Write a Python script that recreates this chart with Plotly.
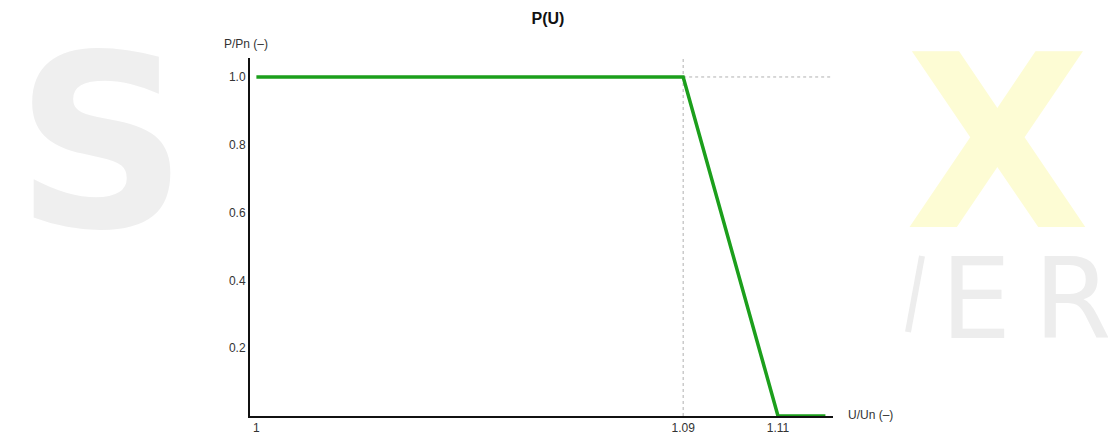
import plotly.graph_objects as go

# ---- data ----
u_values = [1.0, 1.09, 1.11, 1.12]          # U/Un
p_values = [1.0, 1.0, 0.0, 0.0]             # P/Pn
x_tick_vals = [1.0, 1.09, 1.11]
x_tick_text = ["1", "1.09", "1.11"]
y_tick_vals = [0.2, 0.4, 0.6, 0.8, 1.0]
y_tick_text = ["0.2", "0.4", "0.6", "0.8", "1.0"]
knee_u = 1.09
knee_p = 1.0

W, H = 1108, 432
ML, MR, MT, MB = 250, 275, 58, 16
PW, PH = W - ML - MR, H - MT - MB


def px(x):
    return (x - ML) / PW


def py(y):
    return (H - MB - y) / PH


fig = go.Figure()
fig.add_trace(go.Scatter(
    x=u_values, y=p_values, mode="lines",
    line=dict(color="#1c9f1c", width=3.5),
    hoverinfo="skip", showlegend=False, cliponaxis=False,
))

font = "Liberation Sans, Arial, sans-serif"
wm_font = "DejaVu Sans, sans-serif"

annotations = [
    # watermark (logo letters)
    dict(text="<b>S</b>", x=px(101), y=py(2), xref="paper", yref="paper",
         xanchor="center", yanchor="top", showarrow=False,
         font=dict(family=wm_font, size=240, color="#efefef")),
    dict(text=("<span style='font-size:240px;color:#fdfcd4'><b>X</b></span><br>"
               "<span style='font-size:112px;color:#ededed'>&nbsp;E\u2009R</span>"),
         x=px(903), y=py(2), xref="paper", yref="paper", align="left",
         xanchor="left", yanchor="top", showarrow=False,
         font=dict(family=wm_font, size=85, color="#ededed")),
    # axis titles
    dict(text="P/Pn (–)", x=px(222), y=py(44), xref="paper", yref="paper",
         xanchor="left", yanchor="middle", showarrow=False,
         font=dict(family=font, size=12, color="#333333")),
    dict(text="U/Un (–)", x=px(846), y=py(415), xref="paper", yref="paper",
         xanchor="left", yanchor="middle", showarrow=False,
         font=dict(family=font, size=12, color="#333333")),
]

shapes = [
    # partial watermark stroke
    dict(type="line", xref="paper", yref="paper", x0=px(908), y0=py(332), x1=px(922), y1=py(256),
         line=dict(color="#ededed", width=6), layer="below"),
    dict(type="line", xref="x", yref="paper", x0=knee_u, x1=knee_u, y0=0, y1=1,
         line=dict(color="#b0b0b0", width=1, dash="dot"), layer="below"),
    dict(type="line", xref="x", yref="y", x0=knee_u, x1=1.1225, y0=knee_p, y1=knee_p,
         line=dict(color="#b0b0b0", width=1, dash="dot"), layer="below"),
]

fig.update_layout(
    width=W, height=H, autosize=False,
    margin=dict(l=ML, r=MR, t=MT, b=MB, pad=0, autoexpand=False),
    paper_bgcolor="white", plot_bgcolor="rgba(0,0,0,0)",
    title=dict(text="<b>P(U)</b>", x=548 / W, y=1 - 18 / H,
               xanchor="center", yanchor="middle",
               font=dict(family=font, size=16, color="#111111")),
    font=dict(family=font, size=12, color="#333333"),
    annotations=annotations,
    shapes=shapes,
    showlegend=False,
)

fig.update_xaxes(
    range=[0.99865, 1.1216], tickmode="array",
    tickvals=x_tick_vals, ticktext=x_tick_text,
    showline=True, linecolor="#111111", linewidth=2,
    showgrid=False, zeroline=False, ticks="", automargin=False,
    tickfont=dict(family=font, size=12, color="#333333"),
)
fig.update_yaxes(
    range=[0, 1.056], tickmode="array",
    tickvals=y_tick_vals, ticktext=y_tick_text,
    showline=True, linecolor="#111111", linewidth=2,
    showgrid=False, zeroline=False, ticks="", automargin=False,
    tickfont=dict(family=font, size=12, color="#333333"),
)

post = (
    "document.documentElement.style.margin='0';"
    "document.documentElement.style.overflow='hidden';"
    "document.body.style.margin='0';"
    "document.body.style.overflow='hidden';"
    "var gd=document.getElementById('{plot_id}');"
    "Plotly.relayout(gd,{width:%d,height:%d});" % (W, H)
)
fig.write_html("out.html", post_script=post,
               config={"responsive": False, "displayModeBar": False})
